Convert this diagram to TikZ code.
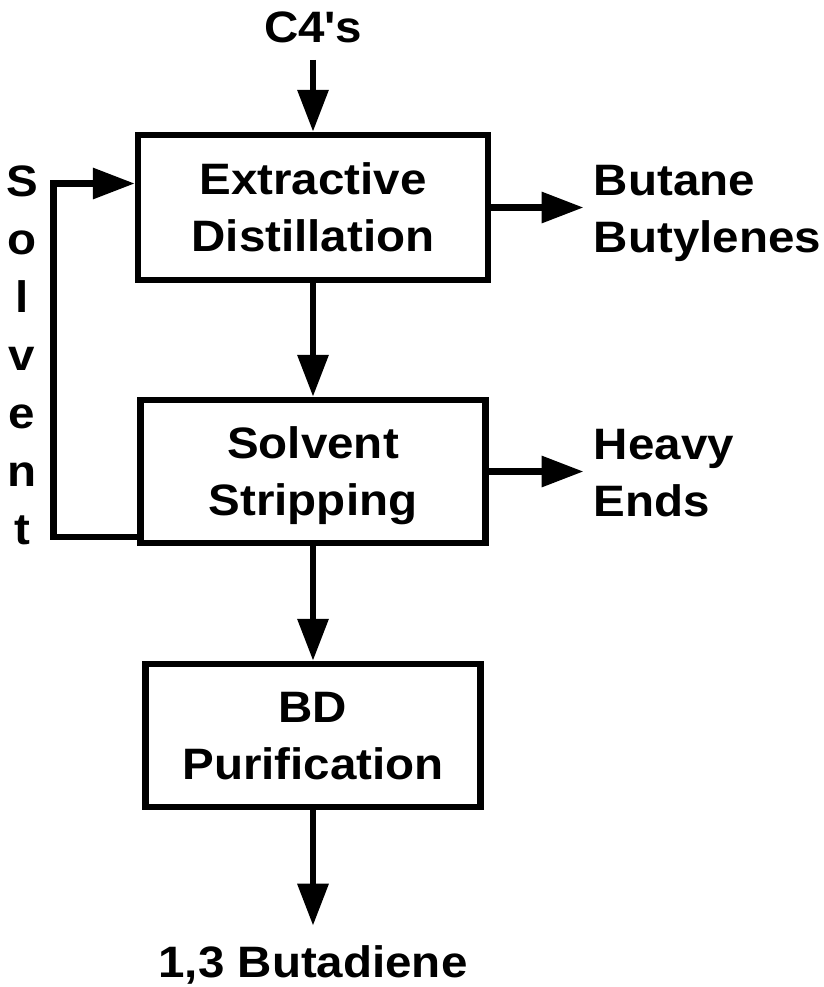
\documentclass[tikz,border=0pt]{standalone}
\usepackage{fontspec}
\setmainfont[FakeStretch=1.08]{Liberation Sans}
\usetikzlibrary{math,arrows.meta}

\tikzset{
  unit/.style={draw, line width=3.25pt, inner sep=0pt, align=center, text depth=0pt},
  stream/.style={inner sep=5pt, text depth=0pt},
  flow/.style={line width=3.25pt, -{Triangle[length=21pt,width=15pt]}},
}

\begin{document}
\begin{tikzpicture}[x=0.5pt, y=-0.5pt, font=\fontsize{22}{28.5}\selectfont\bfseries]
  \tikzmath{\cx = 313;}
  \useasboundingbox (0,0) rectangle (824,987);

  % process units
  \node[unit, minimum width=175pt, minimum height=72.5pt] (extract) at (\cx, 207.5) {Extractive\\Distillation};
  \node[unit, minimum width=172.5pt, minimum height=71.5pt] (strip) at (\cx, 471.5) {Solvent\\Stripping};
  \node[unit, minimum width=167.5pt, minimum height=71.5pt] (purify) at (\cx, 735.5) {BD\\Purification};

  % feed and products
  \node[stream] (feed) at (\cx, 27) {C4\textquotesingle s};
  \node[stream, align=left, anchor=west] (butane) at (583.5, 209) {Butane\\Butylenes};
  \node[stream, align=left, anchor=west] (heavy) at (583.5, 473) {Heavy\\Ends};
  \node[stream] (product) at (\cx, 962) {1,3 Butadiene};

  % solvent recycle label
  \node[stream, align=center, font=\fontsize{22}{29}\selectfont\bfseries] (solvent) at (22, 355) {S\\o\\l\\v\\e\\n\\t};

  % main line
  \draw[flow, shorten <=3.5pt] (feed) -- (extract);
  \draw[flow] (extract) -- (strip);
  \draw[flow] (strip) -- (purify);
  \draw[flow, shorten >=5pt] (purify) -- (product);

  % side draws
  \draw[flow] (extract.east) -- (extract.east -| butane.west);
  \draw[flow] (strip.east) -- (strip.east -| heavy.west);

  % solvent recycle
  \draw[flow] ([yshift=4.75pt]strip.south west) -- ++(-84,0) |- ([yshift=12pt]extract.west);
\end{tikzpicture}
\end{document}
